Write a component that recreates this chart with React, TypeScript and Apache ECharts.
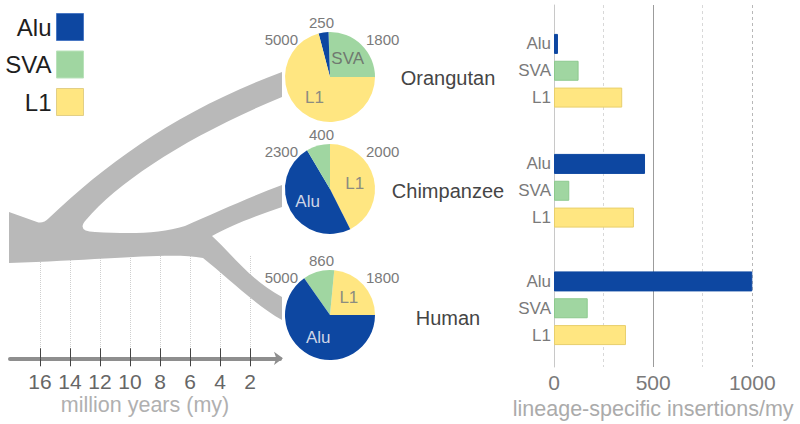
import React, { useEffect, useRef } from 'react';
import * as echarts from 'echarts';

// ---- data ----
const TE_TYPES = ['Alu', 'SVA', 'L1'];
const SPECIES = ['Orangutan', 'Chimpanzee', 'Human'];
// insertion counts (pie charts), in TE_TYPES order
const ORANGUTAN_COUNTS = [250, 1800, 5000];
const CHIMP_COUNTS = [2300, 400, 2000];
const HUMAN_COUNTS = [5000, 860, 1800];
// lineage-specific insertions per million years (bars), in TE_TYPES order
const ORANGUTAN_RATES = [20, 124, 344];
const CHIMP_RATES = [459, 77, 403];
const HUMAN_RATES = [1000, 170, 363];
const RATE_TICKS = [0, 250, 500, 750, 1000];
const MY_TICKS = [16, 14, 12, 10, 8, 6, 4, 2];

const COUNTS = [ORANGUTAN_COUNTS, CHIMP_COUNTS, HUMAN_COUNTS];
const RATES = [ORANGUTAN_RATES, CHIMP_RATES, HUMAN_RATES];

// ---- styles ----
const FONT = "'Liberation Sans', Arial, sans-serif";
const COLORS: Record<string, string> = { Alu: '#0d47a1', SVA: '#a0d6a1', L1: '#ffe681' };
const BORDERS: Record<string, string> = { Alu: '#0d47a1', SVA: '#8cc98e', L1: '#e8cf6c' };
const LEGEND_BORDERS: Record<string, string> = { Alu: '#4a78c4', SVA: '#b9e2ba', L1: '#e2cf86' };
const PIE_LABEL_COLORS: Record<string, string> = { Alu: '#cdd5e6', SVA: '#707a70', L1: '#8c8c80' };

const PIE_LAYOUT = [
  { center: [330, 77], startAngle: 0, clockwise: false, order: ['SVA', 'Alu', 'L1'] },
  { center: [330, 189], startAngle: 90, clockwise: true, order: ['L1', 'Alu', 'SVA'] },
  { center: [330, 315], startAngle: 0, clockwise: false, order: ['L1', 'SVA', 'Alu'] },
];
const SPECIES_LABEL_Y = [78, 191, 318];
const BAR_GRID_TOPS = [30.5, 150.5, 268];

const TREE_D =
  'M 9 212 L 37 222 Q 43 224 49 218 C 110 160 180 110 282 72 L 282 97 ' +
  'C 190 135 120 180 86 220 Q 76 231 95 232 C 130 234 160 234 185 226 ' +
  'C 215 213 250 197 282 185 L 282 207 C 255 216 230 226 212 236 ' +
  'C 230 252 250 280 282 297 L 282 320 C 255 305 225 275 203 258 ' +
  'C 170 252 110 260 9 263 Z';

let registered = false;

function buildOption() {
  if (!registered) {
    echarts.graphic.registerShape('tree', echarts.graphic.extendPath(TREE_D, {}));
    registered = true;
  }

  const grids: any[] = [
    { left: 554, top: 5, width: 198.3, height: 362, outerBoundsMode: 'none' },
    ...BAR_GRID_TOPS.map((t) => ({ left: 554, top: t, width: 198.3, height: 80.5, outerBoundsMode: 'none' })),
    { left: 10, top: 256, width: 270, height: 102.3, outerBoundsMode: 'none' },
    { left: 40, top: 256, width: 210, height: 102.3, outerBoundsMode: 'none' },
  ];

  const rateMin = RATE_TICKS[0];
  const rateMax = RATE_TICKS[RATE_TICKS.length - 1];
  const rateMinor = RATE_TICKS[1] - RATE_TICKS[0];
  const myMin = Math.min(...MY_TICKS);
  const myMax = Math.max(...MY_TICKS);
  const myInterval = MY_TICKS[0] - MY_TICKS[1];

  const xAxes: any[] = [
    {
      gridIndex: 0, type: 'value', position: 'top', min: rateMin, max: rateMax, interval: rateMinor,
      axisLine: { show: false }, axisTick: { show: false }, axisLabel: { show: false },
      splitLine: {
        show: true,
        lineStyle: { type: [3, 3], width: 1, color: ['rgba(0,0,0,0)', '#d8d8d8', 'rgba(0,0,0,0)', '#d8d8d8', '#b8b8b8'] },
      },
    },
    {
      gridIndex: 0, type: 'value', position: 'bottom', min: rateMin, max: rateMax, interval: rateMinor * 2,
      axisLine: { show: false }, axisTick: { show: false },
      axisLabel: {
        show: true, fontSize: 21, color: '#7a7a7a', margin: 5, fontFamily: FONT,
        formatter: (v: number) => String(v),
      },
      splitLine: { show: true, lineStyle: { type: 'solid', width: 1, color: ['rgba(0,0,0,0)', '#9c9c9c', 'rgba(0,0,0,0)'] } },
      name: 'lineage-specific insertions/my', nameLocation: 'middle', nameGap: 25,
      nameTextStyle: { fontSize: 21.5, color: '#ababab', fontFamily: FONT },
    },
    ...[0, 1, 2].map((i) => ({ gridIndex: 1 + i, type: 'value', min: rateMin, max: rateMax, show: false })),
    {
      gridIndex: 4, type: 'value', min: 0, max: myMax + myInterval, inverse: true,
      axisLine: {
        show: true, onZero: false, symbol: ['none', 'arrow'], symbolSize: [10, 9], symbolOffset: [0, 3],
        lineStyle: { color: '#8e8e8e', width: 4 },
      },
      axisTick: { show: false }, axisLabel: { show: false }, splitLine: { show: false },
    },
    {
      gridIndex: 5, type: 'value', position: 'bottom', min: myMin, max: myMax, interval: myInterval, inverse: true,
      axisLine: { show: false, onZero: false },
      axisTick: { show: true, inside: true, length: 10, lineStyle: { color: '#444', width: 1 } },
      axisLabel: { show: true, fontSize: 21, color: '#666', margin: 13, fontFamily: FONT },
      splitLine: { show: true, lineStyle: { type: 'dotted', color: '#cfcfcf', width: 1 } },
      name: 'million years (my)', nameLocation: 'middle', nameGap: 36,
      nameTextStyle: { fontSize: 21.5, color: '#b0b0b0', fontFamily: FONT },
    },
    {
      gridIndex: 5, type: 'value', position: 'bottom', min: myMin, max: myMax, interval: myInterval, inverse: true,
      axisLine: { show: false, onZero: false },
      axisTick: { show: true, inside: false, length: 8, lineStyle: { color: '#444', width: 1 } },
      axisLabel: { show: false }, splitLine: { show: false },
    },
  ];

  const yAxes: any[] = [
    {
      gridIndex: 0, type: 'value', min: 0, max: 1,
      axisLine: { show: true, lineStyle: { color: '#c8c8c8', width: 1 } },
      axisTick: { show: false }, axisLabel: { show: false }, splitLine: { show: false },
    },
    ...[0, 1, 2].map((i) => ({
      gridIndex: 1 + i, type: 'category', inverse: true, data: TE_TYPES,
      axisLine: { show: false }, axisTick: { show: false }, splitLine: { show: false },
      axisLabel: { show: true, fontSize: 17, color: '#7a7a7a', margin: 3, fontFamily: FONT },
    })),
    { gridIndex: 4, type: 'value', min: 0, max: 1, show: false },
    { gridIndex: 5, type: 'value', min: 0, max: 1, show: false },
  ];

  const barSeries = RATES.map((rates, i) => ({
    type: 'bar', name: SPECIES[i], xAxisIndex: 2 + i, yAxisIndex: 1 + i, barWidth: 20, silent: true,
    data: rates.map((v, j) => ({
      value: v,
      itemStyle: { color: COLORS[TE_TYPES[j]], borderColor: BORDERS[TE_TYPES[j]], borderWidth: 1 },
    })),
  }));

  const pieSeries = COUNTS.map((counts, i) => {
    const layout = PIE_LAYOUT[i];
    const total = counts.reduce((a, b) => a + b, 0);
    return {
      type: 'pie', name: SPECIES[i], center: layout.center, radius: 45,
      startAngle: layout.startAngle, clockwise: layout.clockwise, silent: true,
      avoidLabelOverlap: false,
      itemStyle: { borderWidth: 0 },
      label: { show: true, position: 'inside', formatter: '{b}', fontSize: 17, fontFamily: FONT },
      labelLine: { show: false },
      emphasis: { disabled: true },
      data: layout.order.map((name) => {
        const v = counts[TE_TYPES.indexOf(name)];
        return {
          name, value: v,
          itemStyle: { color: COLORS[name] },
          label: { show: v / total > 0.15, color: PIE_LABEL_COLORS[name] },
        };
      }),
    };
  });

  const graphics: any[] = [
    { type: 'tree', x: 0, y: 0, z: 5, silent: true, style: { fill: '#b9b9b9' } },
  ];
  SPECIES.forEach((s, i) => {
    graphics.push({
      type: 'text', x: 448, y: SPECIES_LABEL_Y[i], z: 5, silent: true,
      style: {
        text: s, fill: '#454545', font: `20px ${FONT}`,
        textAlign: 'center', textVerticalAlign: 'middle', align: 'center', verticalAlign: 'middle',
      },
    });
  });
  COUNTS.forEach((counts, i) => {
    const [cx, cy] = PIE_LAYOUT[i].center;
    const sorted = [...counts].sort((a, b) => a - b);
    const slots = [
      { v: sorted[0], x: cx - 8.5, y: cy - 55, align: 'center' },
      { v: sorted[2], x: cx - 32, y: cy - 38, align: 'right' },
      { v: sorted[1], x: cx + 36, y: cy - 38, align: 'left' },
    ];
    slots.forEach((sl) => {
      graphics.push({
        type: 'text', x: sl.x, y: sl.y, z: 5, silent: true,
        style: {
          text: String(sl.v), fill: '#7a7a7a', font: `15px ${FONT}`,
          textAlign: sl.align, textVerticalAlign: 'middle', align: sl.align, verticalAlign: 'middle',
        },
      });
    });
  });

  return {
    animation: false,
    backgroundColor: '#ffffff',
    textStyle: { fontFamily: FONT },
    legend: {
      orient: 'vertical', align: 'right', right: 716, top: 13, padding: 0,
      itemGap: 9.5, itemWidth: 27, itemHeight: 27, icon: 'rect', selectedMode: false,
      textStyle: { fontSize: 24, color: '#1e1e1e', fontFamily: FONT },
      data: TE_TYPES.map((name) => ({
        name, itemStyle: { color: COLORS[name], borderColor: LEGEND_BORDERS[name], borderWidth: 1 },
      })),
    },
    grid: grids,
    xAxis: xAxes,
    yAxis: yAxes,
    series: [...barSeries, ...pieSeries],
    graphic: graphics,
  };
}

export default function App() {
  const ref = useRef<HTMLDivElement>(null);
  useEffect(() => {
    if (!ref.current) return;
    const chart = echarts.init(ref.current, null, { renderer: 'svg' });
    chart.setOption(buildOption() as any);
    return () => chart.dispose();
  }, []);
  return (
    <div
      ref={ref}
      style={{ position: 'fixed', left: 0, top: 0, width: 800, height: 424, background: '#fff' }}
    />
  );
}
